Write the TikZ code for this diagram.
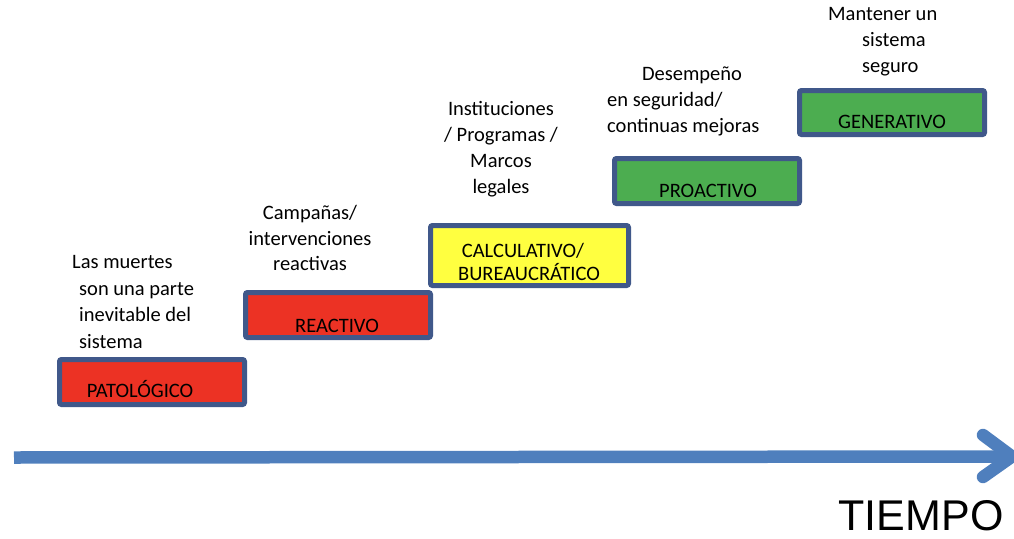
\documentclass[tikz,border=0pt]{standalone}
\usepackage{fontspec}
\setmainfont{Carlito}
\newfontfamily\arialf{Liberation Sans}
\definecolor{bordc}{RGB}{64,88,138}
\definecolor{redf}{RGB}{236,50,36}
\definecolor{yelf}{RGB}{255,255,64}
\definecolor{grnf}{RGB}{76,173,80}
\definecolor{arrc}{RGB}{79,127,189}
\tikzset{
  stage/.style={draw=bordc, line width=5pt, rounded corners=2pt, inner sep=0pt},
  lbl/.style={font=\fontsize{20.5}{26.5}\selectfont, inner sep=0pt, anchor=base, text=black},
  lblw/.style={lbl, anchor=base west},
  arr/.style={draw=arrc, line width=12.5pt}
}
\begin{document}
\begin{tikzpicture}[x=1pt,y=-1pt]
\useasboundingbox (0,0) rectangle (1014,538);
% boxes (outer edges minus half line width)
\node[stage, fill=redf, minimum width=185pt, minimum height=45pt] (b1) at (152,382) {};
\node[stage, fill=redf, minimum width=185pt, minimum height=45pt] (b2) at (338,315) {};
\node[stage, fill=yelf, minimum width=198pt, minimum height=60pt] (b3) at (529.5,255.5) {};
\node[stage, fill=grnf, minimum width=185pt, minimum height=45pt] (b4) at (707,181) {};
\node[stage, fill=grnf, minimum width=185pt, minimum height=44pt] (b5) at (892,112.5) {};
% box labels
\node[lbl] (t1) at (140,397) {PATOLÓGICO};
\node[lbl] (t2) at (337,332) {REACTIVO};
\node[lbl] (t3a) at (523,257) {CALCULATIVO/};
\node[lbl] (t3b) at (529,280) {BUREAUCRÁTICO};
\node[lbl] (t4) at (708,197) {PROACTIVO};
\node[lbl] (t5) at (892,128) {GENERATIVO};
% descriptions
\node[lblw] (d1a) at (72,268) {Las muertes};
\node[lblw] (d1b) at (79,295) {son una parte};
\node[lblw] (d1c) at (79,321) {inevitable del};
\node[lblw] (d1d) at (79,348) {sistema};
\node[lbl] (d2a) at (310,219) {Campañas/};
\node[lbl] (d2b) at (310,245) {intervenciones};
\node[lbl] (d2c) at (310,270) {reactivas};
\node[lbl] (d3a) at (501,115) {Instituciones};
\node[lbl] (d3b) at (501,141) {/ Programas /};
\node[lbl] (d3c) at (501,167) {Marcos};
\node[lbl] (d3d) at (501,193) {legales};
\node[lbl] (d4a) at (692,80) {Desempeño};
\node[lblw] (d4b) at (607,106) {en seguridad/};
\node[lblw] (d4c) at (607,132) {continuas mejoras};
\node[lblw] (d5a) at (828,20) {Mantener un};
\node[lblw] (d5b) at (862,46) {sistema};
\node[lblw] (d5c) at (862,72) {seguro};
% time arrow
\coordinate (s) at (14,457.5);
\coordinate (e) at (1010,456.5);
\coordinate (ct) at (983,435);
\coordinate (cb) at (983,477);
\coordinate (tip) at (1012,456.5);
\draw[arr] (s) -- (e);
\draw[arr, line cap=round, line join=round] (ct) -- (tip) -- (cb);
\node[font=\arialf\fontsize{43}{50}\selectfont, inner sep=0pt, anchor=base] (tiempo) at (921,530) {TIEMPO};
\end{tikzpicture}
\end{document}
